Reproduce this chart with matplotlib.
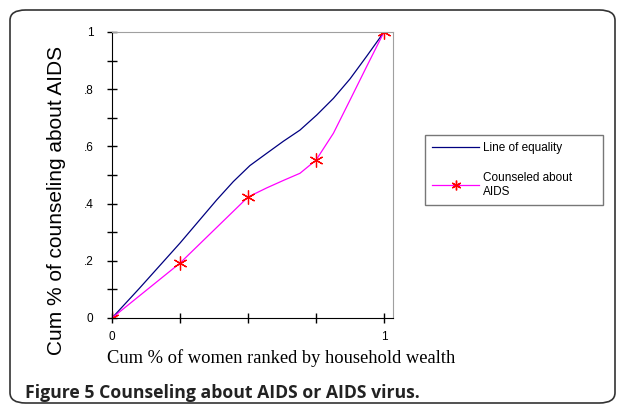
import matplotlib
matplotlib.use('Agg')
import matplotlib.pyplot as plt
from matplotlib.patches import FancyBboxPatch
from matplotlib.ticker import FixedLocator

# points (smoothed curves)
equality_x = [0, 0.1, 0.25, 0.385, 0.446, 0.507, 0.569, 0.63, 0.691, 0.753, 0.814, 0.875, 0.936, 1.0]
equality_y = [0, 0.103, 0.262, 0.413, 0.477, 0.533, 0.576, 0.618, 0.657, 0.71, 0.768, 0.836, 0.915, 1.0]

counsel_x = [0, 0.25, 0.5, 0.569, 0.63, 0.691, 0.75, 0.814, 0.875, 0.936, 1.0]
counsel_y = [0, 0.192, 0.423, 0.455, 0.481, 0.506, 0.552, 0.646, 0.762, 0.879, 1.0]

# quintile markers
quint_x = [0, 0.25, 0.5, 0.75, 1.0]
quint_y = [0, 0.192, 0.423, 0.552, 1.0]

y_ticks = [0, 0.2, 0.4, 0.6, 0.8, 1.0]
y_labels = ['0', '.2', '.4', '.6', '.8', '1']
x_ticks = [0, 0.25, 0.5, 0.75, 1.0]
x_labels = ['0', '', '', '', '1']

fig = plt.figure(figsize=(6.25, 4.13), dpi=100)

# rounded outer frame
frame = FancyBboxPatch((10/625, 10/413), 605/625, 393/413, boxstyle='round,pad=0,rounding_size=0.025',
                       transform=fig.transFigure, fill=False, edgecolor='#333333', linewidth=1.2)
fig.patches.append(frame)

ax = fig.add_axes([112/625, 1 - 318/413, 281/625, 286/413])
ax.plot(equality_x, equality_y, color='#000080', linewidth=0.9, label='Line of equality')
ax.plot(counsel_x, counsel_y, color='#ff00ff', linewidth=0.9)
ax.plot(quint_x, quint_y, linestyle='none', marker=(6, 2, 0), markersize=10,
        markeredgecolor='#ff0000', markeredgewidth=0.9)
ax.plot([], [], color='#ff00ff', linewidth=0.9, marker=(6, 2, 0), markersize=7,
        markeredgecolor='#ff0000', label='Counseled about\nAIDS')

ax.set_xlim(0, 1.033)
ax.set_ylim(0, 1.0)
for s in ['top', 'right']:
    ax.spines[s].set_color('#a0a0a0')
for s in ['left', 'bottom']:
    ax.spines[s].set_color('black')

ax.set_yticks(y_ticks)
ax.set_yticklabels(y_labels, fontfamily='Liberation Sans', fontsize=8.5)
ax.yaxis.set_minor_locator(FixedLocator([0.1, 0.3, 0.5, 0.7, 0.9]))
ax.set_xticks(x_ticks)
ax.set_xticklabels(x_labels, fontfamily='Liberation Sans', fontsize=8.5)
ax.tick_params(which='both', direction='inout', length=6.5, width=1)
ax.tick_params(axis='y', pad=10)
ax.tick_params(axis='x', pad=6)

ax.set_ylabel('Cum % of counseling about AIDS', fontfamily='Liberation Sans', fontsize=15)
ax.yaxis.set_label_coords(-0.165, 0.41)
ax.set_xlabel('Cum % of women ranked by household wealth', fontfamily='Liberation Serif',
              fontsize=13.3, loc='left')
ax.xaxis.set_label_coords(-0.018, -0.11)

leg = fig.legend(loc='upper left', bbox_to_anchor=(425/625, 1 - 135/413 - 0.01, 178/625, 0.01), mode='expand',
                 prop={'family': 'Liberation Sans', 'size': 8.5},
                 frameon=True, fancybox=False, edgecolor='#555555', handlelength=4.0, handletextpad=0.35,
                 labelspacing=1.5, borderpad=0.6, borderaxespad=0)
leg.get_frame().set_linewidth(1.0)

fig.text(25/625, 1 - 393/413, 'Figure 5 Counseling about AIDS or AIDS virus.', fontfamily='Open Sans',
         fontweight='bold', fontsize=12.7, va='center', color='#222222')

fig.savefig('out.png', dpi=100)
